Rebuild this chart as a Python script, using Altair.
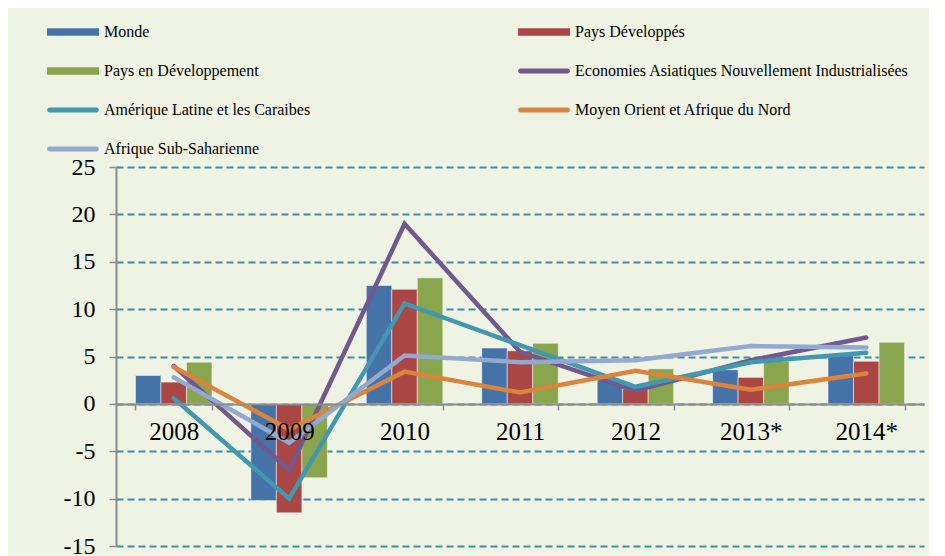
import altair as alt
import pandas as pd

years = ["2008", "2009", "2010", "2011", "2012", "2013*", "2014*"]

bar_names = ["Monde", "Pays Développés", "Pays en Développement"]
monde = [3.0, -10.2, 12.5, 5.9, 2.5, 3.6, 5.1]
pays_dev = [2.3, -11.5, 12.1, 5.6, 1.6, 2.8, 4.5]
pays_en_dev = [4.4, -7.8, 13.3, 6.4, 3.7, 4.5, 6.5]

line_names = [
    "Economies Asiatiques Nouvellement Industrialisées",
    "Amérique Latine et les Caraibes",
    "Moyen Orient et Afrique du Nord",
    "Afrique Sub-Saharienne",
]
asie = [4.0, -7.0, 19.0, 5.5, 1.4, 4.6, 7.0]
amerique = [0.6, -10.0, 10.6, 6.2, 1.8, 4.4, 5.4]
moyen_orient = [3.9, -2.7, 3.4, 1.2, 3.5, 1.5, 3.2]
afrique_ss = [2.8, -4.1, 5.1, 4.4, 4.6, 6.1, 5.95]

legend_order = [
    "Monde", "Pays Développés",
    "Pays en Développement", "Economies Asiatiques Nouvellement Industrialisées",
    "Amérique Latine et les Caraibes", "Moyen Orient et Afrique du Nord",
    "Afrique Sub-Saharienne",
]
colors = ["#4572A7", "#AA4643", "#89A54E", "#71588F", "#4198AF", "#DB843D", "#93A9CF"]

bar_series = {"Monde": monde, "Pays Développés": pays_dev, "Pays en Développement": pays_en_dev}
line_series = dict(zip(line_names, [asie, amerique, moyen_orient, afrique_ss]))

bar_df = pd.DataFrame(
    [{"Année": y, "Série": s, "Valeur": v} for s, vals in bar_series.items() for y, v in zip(years, vals)]
)
line_df = pd.DataFrame(
    [{"Année": y, "Série": s, "Valeur": v} for s, vals in line_series.items() for y, v in zip(years, vals)]
)

FONT = "Liberation Serif"
GRAY = "#8c8c8c"

x_enc = alt.X(
    "Année:N",
    sort=years,
    scale=alt.Scale(paddingInner=0.337, paddingOuter=0.1685),
    axis=alt.Axis(
        title=None, orient="bottom", offset=-142, labelAngle=0, tickBand="extent",
        domainColor=GRAY, domainWidth=2, tickColor=GRAY, tickWidth=1.5, tickSize=6,
        labelFont=FONT, labelFontSize=25, labelColor="black", labelPadding=9, grid=False,
        zindex=1,
    ),
)
y_enc = alt.Y(
    "Valeur:Q",
    scale=alt.Scale(domain=[-15, 25], nice=False, zero=False),
    axis=alt.Axis(
        title=None, values=list(range(-15, 30, 5)), grid=True, gridColor="#3B8EA5",
        gridDash=[7, 4], gridWidth=2, domainColor=GRAY, domainWidth=2, tickColor=GRAY,
        tickWidth=1.5, tickSize=7, labelFont=FONT, labelFontSize=24, labelColor="black",
        labelPadding=14, labelExpr="'' + datum.value",
    ),
)

shape_expr = (
    "indexof(['Monde','Pays Développés','Pays en Développement'], datum.value) >= 0"
    " ? 'M-1,-0.14H1V0.14H-1Z'"
    " : 'M-0.9,-0.095H0.9A0.095,0.095 0 0 1 0.9,0.095H-0.9A0.095,0.095 0 0 1 -0.9,-0.095Z'"
)

color_scale = alt.Scale(domain=legend_order, range=colors)

bars = alt.Chart(bar_df).mark_bar(stroke="#ffffff", strokeOpacity=0.5, strokeWidth=1).encode(
    x=x_enc,
    y=y_enc,
    xOffset=alt.XOffset("Série:N", sort=bar_names, scale=alt.Scale(domain=bar_names, paddingInner=0, paddingOuter=0)),
    color=alt.Color(
        "Série:N",
        scale=color_scale,
        legend=alt.Legend(
            title=None, orient="none", legendX=-69, legendY=-143, columns=2,
            direction="horizontal", columnPadding=207, rowPadding=23, clipHeight=16,
            padding=0, symbolSize=2704, symbolType=alt.ExprRef(shape_expr),
            symbolStrokeWidth=0, labelFont=FONT, labelFontSize=16, labelColor="black",
            labelLimit=600, labelOffset=5,
        ),
    ),
)

layers = [bars]
for name in line_names:
    layers.append(
        alt.Chart(line_df).transform_filter(alt.datum["Série"] == name).mark_line(
            strokeWidth=4.5, strokeCap="round", strokeJoin="miter"
        ).encode(
            x=x_enc,
            y=y_enc,
            color=alt.Color("Série:N", scale=color_scale, legend=None),
        )
    )

chart = alt.layer(*layers).properties(
    width=808,
    height=379,
    padding={"left": 108, "top": 159, "right": 5, "bottom": 10},
    autosize=alt.AutoSizeParams(type="none"),
).configure(background="#EFF3E4").configure_view(strokeWidth=0)

chart.save("out.html", embed_options={"renderer": "svg", "actions": False})
